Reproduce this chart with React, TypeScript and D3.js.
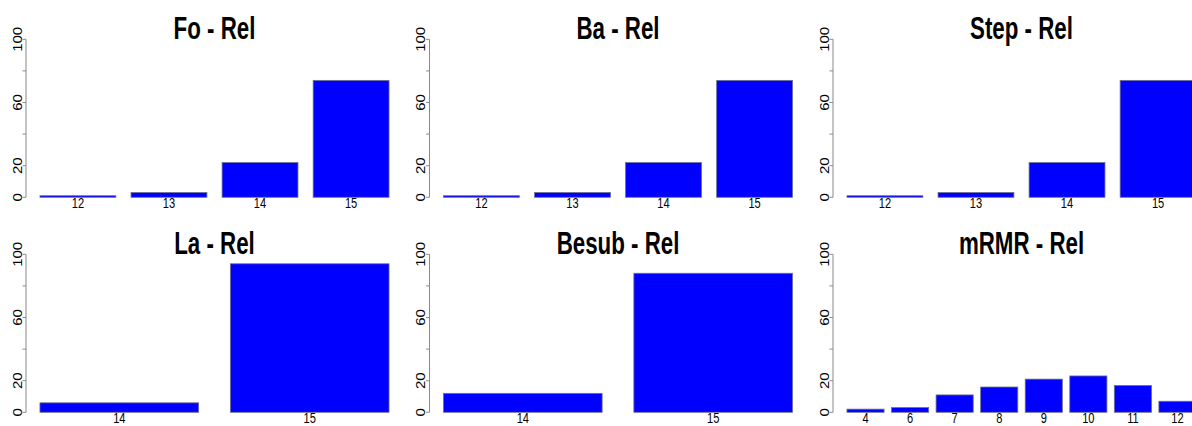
import React from "react";
import * as d3 from "d3";

// ---- data ----
const foLabels = ["12", "13", "14", "15"];
const foValues = [1, 3, 22, 74];
const baLabels = ["12", "13", "14", "15"];
const baValues = [1, 3, 22, 74];
const stepLabels = ["12", "13", "14", "15"];
const stepValues = [1, 3, 22, 74];
const laLabels = ["14", "15"];
const laValues = [6, 94];
const besubLabels = ["14", "15"];
const besubValues = [12, 88];
const mrmrLabels = ["4", "6", "7", "8", "9", "10", "11", "12"];
const mrmrValues = [2, 3, 11, 16, 21, 23, 17, 7];
const titles = ["Fo - Rel", "Ba - Rel", "Step - Rel", "La - Rel", "Besub - Rel", "mRMR - Rel"];
const yTicks = [0, 20, 40, 60, 80, 100];
const yTickLabels = [0, 20, 60, 100];

const panels = [
  { title: titles[0], labels: foLabels, values: foValues },
  { title: titles[1], labels: baLabels, values: baValues },
  { title: titles[2], labels: stepLabels, values: stepValues },
  { title: titles[3], labels: laLabels, values: laValues },
  { title: titles[4], labels: besubLabels, values: besubValues },
  { title: titles[5], labels: mrmrLabels, values: mrmrValues },
];

const W = 1192;
const H = 426;
const COL_W = 403.5;
const ROW_H = 215;
const FONT = "'Liberation Sans', Arial, sans-serif";

function Panel({ p, idx }: { p: any; idx: number }) {
  const col = idx % 3;
  const row = Math.floor(idx / 3);
  const ox = col * COL_W;
  const oy = row * ROW_H;
  const left = 26 + ox;
  const right = 403 + ox;
  const n = p.values.length;
  const space = 0.2;
  const lo = space;
  const hi = n * (1 + space);
  const ext = 0.04 * (hi - lo);
  const x = d3.scaleLinear().domain([lo - ext, hi + ext]).range([left, right]);
  const y = d3.scaleLinear().domain([0, 100]).range([197.3 + oy, 39.3 + oy]);
  const cx = (left + right) / 2;

  return (
    <g>
      <text
        transform={`translate(${cx},${y(100) - 0.8}) scale(0.72,1)`}
        textAnchor="middle"
        fontFamily={FONT}
        fontWeight="bold"
        fontSize={31}
        fill="#000"
      >
        {p.title}
      </text>
      {p.values.map((v: number, i: number) => {
        const l = space + i * (1 + space);
        return (
          <rect
            key={i}
            x={x(l)}
            y={y(v)}
            width={x(l + 1) - x(l)}
            height={y(0) - y(v)}
            fill="#0000ff"
            stroke="#6f6f8f"
            strokeWidth={0.8}
          />
        );
      })}
      {p.labels.map((lab: string, i: number) => {
        const l = space + i * (1 + space);
        return (
          <text
            key={"l" + i}
            transform={`translate(${x(l + 0.5)},${y(0) + 10.5}) scale(0.74,1)`}
            textAnchor="middle"
            fontFamily={FONT}
            fontSize={15}
            fill="#000"
          >
            {lab}
          </text>
        );
      })}
      <line x1={left} x2={left} y1={y(0)} y2={y(100)} stroke="#8a8a8a" strokeWidth={1} />
      {yTicks.map((t) => (
        <line key={"t" + t} x1={left - 3.5} x2={left} y1={y(t)} y2={y(t)} stroke="#8a8a8a" strokeWidth={1} />
      ))}
      {yTickLabels.map((t) => (
        <text
          key={"y" + t}
          transform={`translate(${left - 4.5},${y(t)}) rotate(-90) scale(1,0.85)`}
          textAnchor="middle"
          fontFamily={FONT}
          fontSize={15}
          fill="#000"
        >
          {t}
        </text>
      ))}
    </g>
  );
}

export default function App() {
  return (
    <svg
      width={W}
      height={H}
      style={{ position: "absolute", left: 0, top: 0, background: "#fff" }}
    >
      <rect width={W} height={H} fill="#fff" />
      {panels.map((p, i) => (
        <Panel key={i} p={p} idx={i} />
      ))}
    </svg>
  );
}
